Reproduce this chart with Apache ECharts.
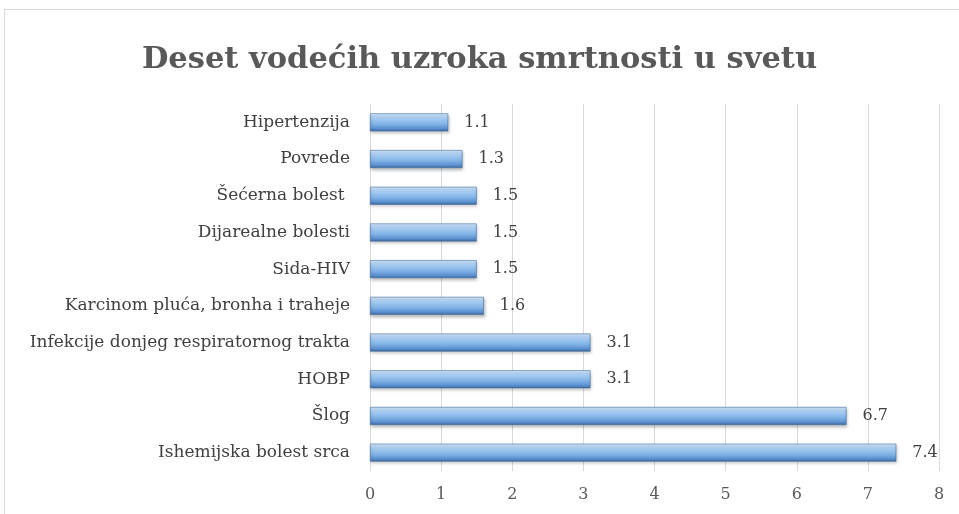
<!DOCTYPE html>
<html>
<head>
<meta charset="utf-8">
<script src="https://cdn.jsdelivr.net/npm/echarts@6/dist/echarts.min.js"></script>
<style>
  html, body { margin: 0; padding: 0; background: #fff; }
  #main { width: 959px; height: 514px; }
</style>
</head>
<body>
<div id="main"></div>
<script>
// kategorije od vrha ka dnu
var categories = [
    'Hipertenzija',
    'Povrede',
    'Šećerna bolest ',
    'Dijarealne bolesti',
    'Sida-HIV',
    'Karcinom pluća, bronha i traheje',
    'Infekcije donjeg respiratornog trakta',
    'HOBP',
    'Šlog',
    'Ishemijska bolest srca'
];
var values = [1.1, 1.3, 1.5, 1.5, 1.5, 1.6, 3.1, 3.1, 6.7, 7.4];
var xTicks = [0, 1, 2, 3, 4, 5, 6, 7, 8];

var chart = echarts.init(document.getElementById('main'));

var barGradient = new echarts.graphic.LinearGradient(0, 0, 0, 1, [
    { offset: 0, color: '#d4e7fa' },
    { offset: 0.25, color: '#a9cdf2' },
    { offset: 0.6, color: '#80b2e6' },
    { offset: 0.85, color: '#5a8fcf' },
    { offset: 1, color: '#3b6499' }
]);

var option = {
    backgroundColor: '#ffffff',
    animation: false,
    title: {
        text: 'Deset vodećih uzroka smrtnosti u svetu',
        left: 'center',
        top: 40,
        textStyle: {
            fontFamily: 'DejaVu Serif',
            fontWeight: 'bold',
            fontSize: 30.5,
            color: '#595959'
        }
    },
    graphic: [{
        type: 'rect',
        shape: { x: 4.5, y: 9.5, width: 1000, height: 600 },
        style: { fill: 'none', stroke: '#d9d9d9', lineWidth: 1 },
        silent: true
    }],
    grid: {
        left: 370,
        right: 20,
        top: 104,
        bottom: 43
    },
    xAxis: {
        type: 'value',
        min: xTicks[0],
        max: xTicks[xTicks.length - 1],
        interval: 1,
        axisLine: { show: false },
        axisTick: { show: false },
        splitLine: { lineStyle: { color: '#d9d9d9', width: 1 } },
        axisLabel: {
            margin: 16,
            fontFamily: 'DejaVu Serif',
            fontSize: 16,
            color: '#595959'
        }
    },
    yAxis: {
        type: 'category',
        inverse: true,
        data: categories,
        axisLine: { show: true, lineStyle: { color: '#d9d9d9' } },
        axisTick: { show: false },
        axisLabel: {
            margin: 20,
            fontFamily: 'DejaVu Serif',
            fontSize: 17,
            color: '#404040'
        }
    },
    series: [{
        type: 'bar',
        data: values,
        barWidth: 18,
        itemStyle: {
            color: barGradient,
            borderColor: '#41709f',
            borderWidth: 0.6,
            shadowColor: 'rgba(0,0,0,0.25)',
            shadowBlur: 3,
            shadowOffsetX: 1,
            shadowOffsetY: 2
        },
        label: {
            show: true,
            position: 'right',
            distance: 16,
            fontFamily: 'DejaVu Serif',
            fontSize: 16,
            color: '#404040',
            formatter: function (p) { return p.value.toFixed(1); }
        }
    }]
};

chart.setOption(option);
</script>
</body>
</html>
